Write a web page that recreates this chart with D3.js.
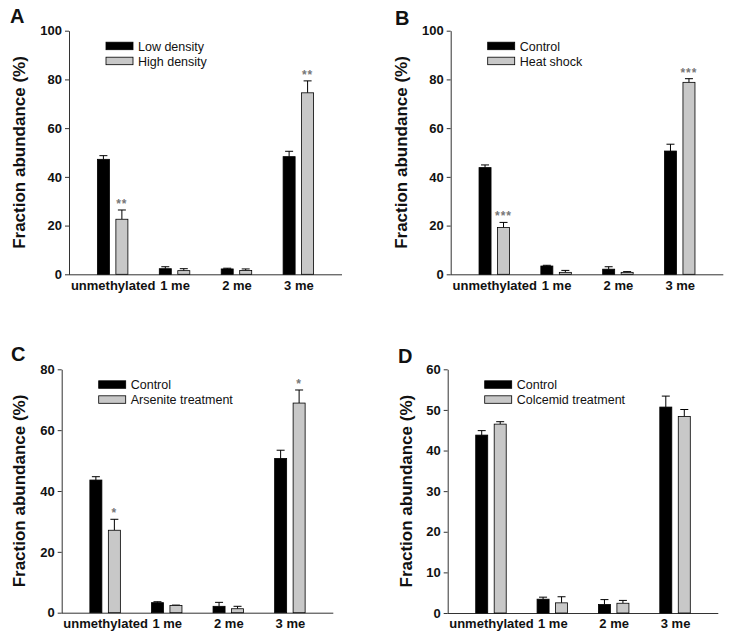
<!DOCTYPE html>
<html>
<head>
<meta charset="utf-8">
<script src="https://cdn.jsdelivr.net/npm/d3@7"></script>
<style>
  html, body { margin: 0; padding: 0; background: #fff; }
  svg { display: block; font-family: "Liberation Sans", Arial, sans-serif; }
</style>
</head>
<body>
<svg id="chart" width="729" height="638"></svg>
<script>
// ---- data ----
const categories = ["unmethylated", "1 me", "2 me", "3 me"];
const panelLetters = ["A", "B", "C", "D"];

const seriesA = ["Low density", "High density"];
const lowDensity = [47.2, 2.3, 2.2, 48.3];
const lowDensityErr = [1.5, 0.8, 0.3, 2.2];
const highDensity = [22.6, 1.5, 1.6, 74.5];
const highDensityErr = [3.8, 0.8, 0.6, 4.9];
const sigA = ["**", "", "", "**"];
const ticksA = [0, 20, 40, 60, 80, 100];

const seriesB = ["Control", "Heat shock"];
const controlB = [43.8, 3.4, 2.1, 50.6];
const controlBErr = [1.1, 0.3, 1.0, 2.8];
const heatShock = [19.2, 0.8, 0.8, 78.8];
const heatShockErr = [2.1, 0.8, 0.3, 1.5];
const sigB = ["***", "", "", "***"];
const ticksB = [0, 20, 40, 60, 80, 100];

const seriesC = ["Control", "Arsenite treatment"];
const controlC = [43.6, 3.3, 2.1, 50.7];
const controlCErr = [1.1, 0.3, 1.3, 2.7];
const arsenite = [27.1, 2.4, 1.3, 68.9];
const arseniteErr = [3.6, 0.1, 0.8, 4.3];
const sigC = ["*", "", "", "*"];
const ticksC = [0, 20, 40, 60, 80];

const seriesD = ["Control", "Colcemid treatment"];
const controlD = [43.8, 3.4, 2.1, 50.7];
const controlDErr = [1.1, 0.5, 1.2, 2.7];
const colcemid = [46.5, 2.5, 2.4, 48.4];
const colcemidErr = [0.6, 1.5, 0.7, 1.7];
const sigD = ["", "", "", ""];
const ticksD = [0, 10, 20, 30, 40, 50, 60];

const yTitle = "Fraction abundance (%)";

// ---- layout (positions only) ----
const layouts = [
  { x0: 69,    x1: 342,   yTop: 30.7,  yBot: 274.3, titleX: 19.5, lx: 10,  ly: 23 },
  { x0: 450.7, x1: 723.3, yTop: 30.7,  yBot: 274.3, titleX: 401,  lx: 395, ly: 25 },
  { x0: 61.7,  x1: 333.3, yTop: 369.3, yBot: 612.7, titleX: 19,   lx: 11,  ly: 361 },
  { x0: 447.7, x1: 718.3, yTop: 369.3, yBot: 613,   titleX: 406,  lx: 398, ly: 363 }
];

const panels = [
  { series: seriesA, vals: [lowDensity, highDensity], errs: [lowDensityErr, highDensityErr], sig: sigA, ticks: ticksA },
  { series: seriesB, vals: [controlB, heatShock], errs: [controlBErr, heatShockErr], sig: sigB, ticks: ticksB },
  { series: seriesC, vals: [controlC, arsenite], errs: [controlCErr, arseniteErr], sig: sigC, ticks: ticksC },
  { series: seriesD, vals: [controlD, colcemid], errs: [controlDErr, colcemidErr], sig: sigD, ticks: ticksD }
];

const fills = ["#000000", "#c8c8c8"];
const svg = d3.select("#chart");

panels.forEach((p, pi) => {
  const L = layouts[pi];
  const g = svg.append("g");

  const x = d3.scalePoint().domain(categories).range([L.x0, L.x1]).padding(0.705);
  const xs = d3.scaleBand().domain(p.series).range([-15.25, 15.25]).paddingInner(0.35);
  const yMax = p.ticks[p.ticks.length - 1];
  const y = d3.scaleLinear().domain([0, yMax]).range([L.yBot, L.yTop]);

  // panel letter
  g.append("text").attr("x", L.lx).attr("y", L.ly)
    .attr("font-size", 20).attr("font-weight", "bold").attr("fill", "#111")
    .text(panelLetters[pi]);

  // y axis title
  g.append("text")
    .attr("transform", `translate(${L.titleX},${(L.yTop + L.yBot) / 2}) rotate(-90)`)
    .attr("text-anchor", "middle").attr("dominant-baseline", "central")
    .attr("font-size", 17).attr("font-weight", "bold").attr("fill", "#111")
    .text(yTitle);

  // y axis
  const yAxis = g.append("g").attr("transform", `translate(${L.x0},0)`)
    .call(d3.axisLeft(y).tickValues(p.ticks).tickSize(4).tickPadding(3).tickSizeOuter(0));
  yAxis.select(".domain").attr("stroke", "#333");
  yAxis.selectAll(".tick line").attr("stroke", "#333");
  yAxis.selectAll(".tick text").attr("font-size", 13).attr("font-weight", "bold")
    .attr("fill", "#111").attr("font-family", "Liberation Sans, Arial, sans-serif");

  // x axis
  const xAxis = g.append("g").attr("transform", `translate(0,${L.yBot})`)
    .call(d3.axisBottom(x).tickSize(0).tickPadding(6).tickSizeOuter(0));
  xAxis.select(".domain").attr("stroke", "#333").attr("d", `M${L.x0},0.5H${L.x1}`);
  xAxis.selectAll(".tick text").attr("font-size", 13).attr("font-weight", "bold")
    .attr("fill", "#111").attr("font-family", "Liberation Sans, Arial, sans-serif");

  // bars
  p.series.forEach((s, si) => {
    const data = categories.map((c, ci) => ({ c, v: p.vals[si][ci], e: p.errs[si][ci], sig: si === 1 ? p.sig[ci] : "" }));
    const cx = d => x(d.c) + xs(s) + xs.bandwidth() / 2;

    // error bars
    g.selectAll(null).data(data).enter().append("line")
      .attr("x1", cx).attr("x2", cx)
      .attr("y1", d => y(d.v)).attr("y2", d => y(d.v + d.e))
      .attr("stroke", "#000").attr("stroke-width", 1);
    g.selectAll(null).data(data).enter().append("line")
      .attr("x1", d => cx(d) - 4).attr("x2", d => cx(d) + 4)
      .attr("y1", d => y(d.v + d.e)).attr("y2", d => y(d.v + d.e))
      .attr("stroke", "#000").attr("stroke-width", 1);

    g.selectAll(null).data(data).enter().append("rect")
      .attr("x", d => x(d.c) + xs(s))
      .attr("y", d => y(d.v))
      .attr("width", xs.bandwidth())
      .attr("height", d => y(0) - y(d.v))
      .attr("fill", fills[si])
      .attr("stroke", "#000").attr("stroke-width", 0.8);

    // significance stars
    g.selectAll(null).data(data.filter(d => d.sig)).enter().append("text")
      .attr("x", cx).attr("y", d => y(d.v + d.e) - 2)
      .attr("text-anchor", "middle").attr("font-size", 12).attr("font-weight", "bold")
      .attr("letter-spacing", 1).attr("fill", "#777")
      .text(d => d.sig);
  });

  // legend
  const lg = g.append("g").attr("transform", `translate(${L.x0 + 37},${L.yTop + 11.5})`);
  p.series.forEach((s, si) => {
    lg.append("rect").attr("x", 0).attr("y", si * 15).attr("width", 27).attr("height", 7.5)
      .attr("fill", fills[si]).attr("stroke", "#000").attr("stroke-width", 0.8);
    lg.append("text").attr("x", 32).attr("y", si * 15 + 8.5)
      .attr("font-size", 12.5).attr("fill", "#111").text(s);
  });
});
</script>
</body>
</html>
